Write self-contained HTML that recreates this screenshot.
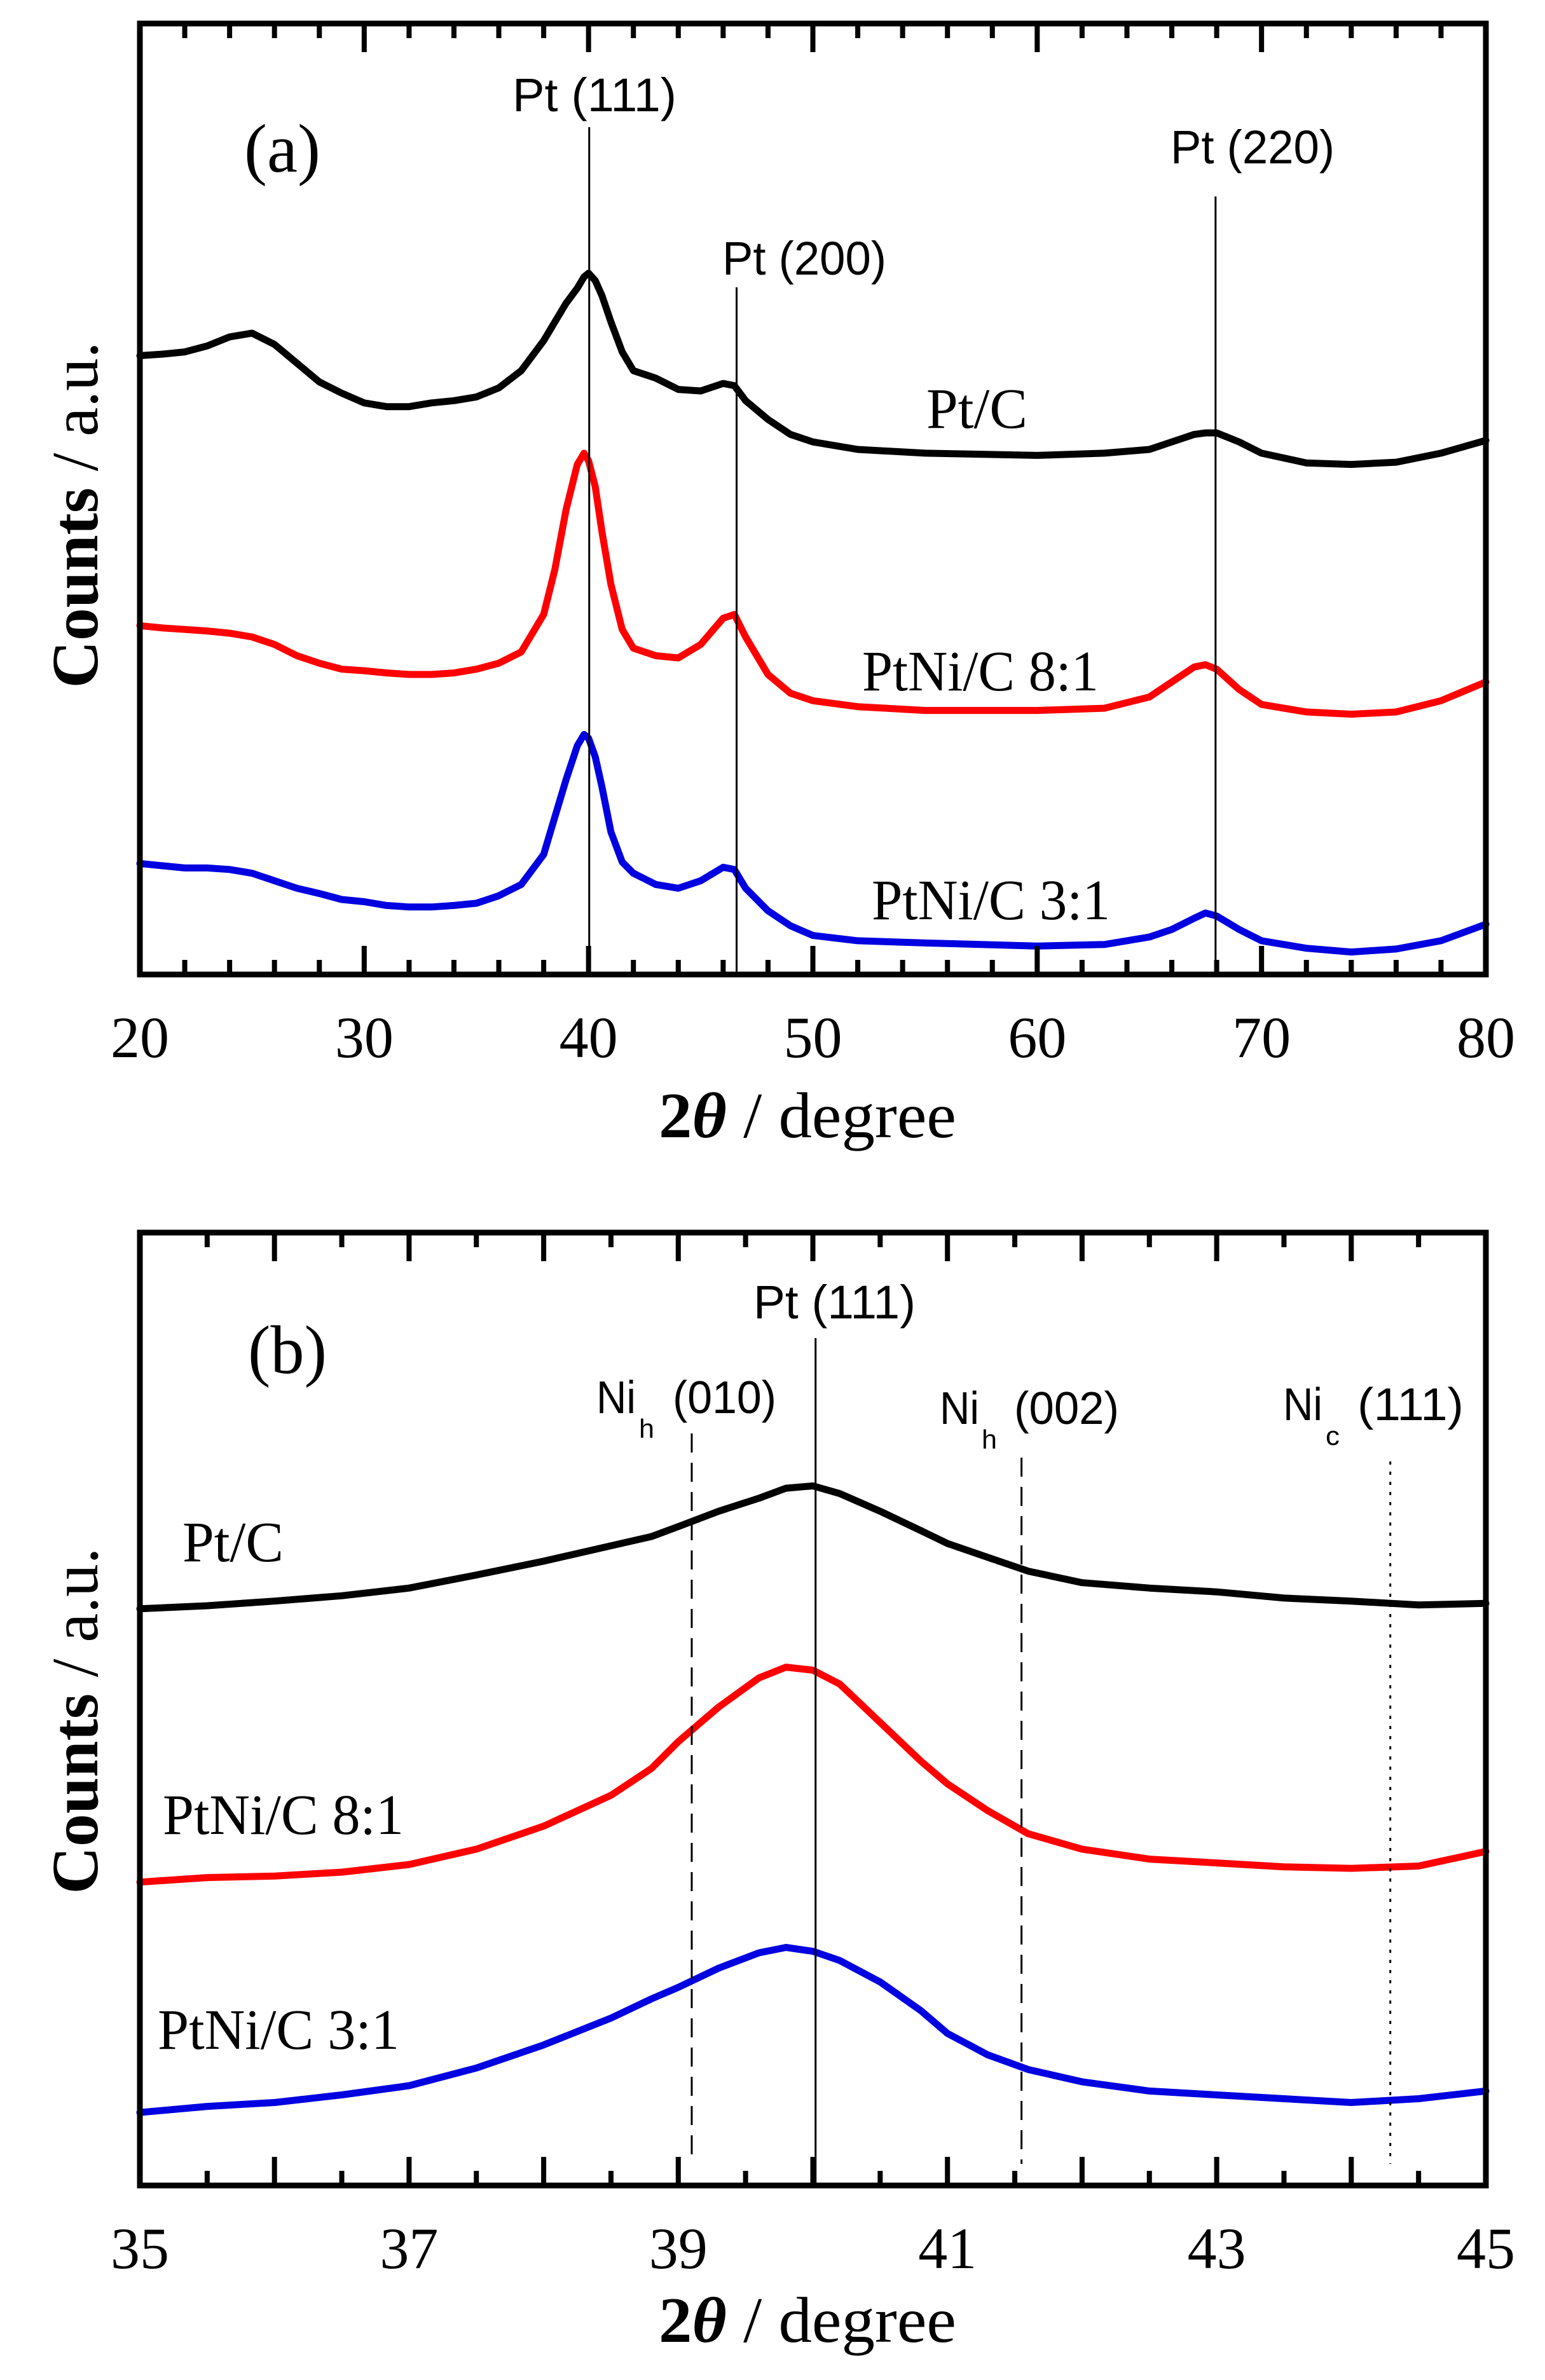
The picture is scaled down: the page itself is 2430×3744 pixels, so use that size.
<!DOCTYPE html>
<html><head><meta charset="utf-8"><style>
html,body{margin:0;padding:0;background:#fff;}
svg{display:block;}
.ser{font-family:"Liberation Serif",serif;}
.san{font-family:"Liberation Sans",sans-serif;}
</style></head><body>
<svg id="fig" xmlns="http://www.w3.org/2000/svg" width="2430" height="3744" viewBox="0 0 2430 3744">
<rect width="2430" height="3744" fill="#fff"/>
<g id="pa"></g>
<g id="pb"></g>
</svg>
<script>
// ---------- Panel (a) data ----------
const aX = [20,21,22,23,24,25,26,27,28,29,30,31,32,33,34,35,36,37,38,38.5,39,39.5,39.8,40,40.3,40.6,41,41.5,42,43,44,45,46,46.5,47,48,49,50,52,55,60,63,65,66,67,67.5,68,69,70,72,74,76,78,80];
const aPtC = [825,827,830,838,850,855,840,815,790,775,762,757,757,762,765,770,782,805,845,870,895,915,930,935,925,905,870,830,805,795,780,778,788,785,765,740,720,710,700,695,692,695,700,710,720,722,722,710,695,682,680,683,695,712];
const aPtNi81 = [465,462,460,458,455,450,440,425,415,407,405,402,400,400,402,407,415,430,480,540,620,680,695,685,650,590,520,460,435,425,422,440,475,480,450,400,375,365,357,352,352,355,370,390,410,413,407,380,360,350,347,350,365,390];
const aPtNi31 = [148,145,142,142,140,135,125,115,108,100,97,92,90,90,92,95,105,120,160,210,260,305,320,315,290,250,190,150,135,120,115,125,143,140,115,85,65,52,45,42,38,40,50,60,75,82,78,60,45,35,30,34,45,67];
const aTicks = ["20","30","40","50","60","70","80"];
const aRefs = [40.03, 46.6, 67.95];
// ---------- Panel (b) data ----------
const bX = [35,35.5,36,36.5,37,37.5,38,38.5,38.8,39,39.3,39.6,39.8,40,40.2,40.5,40.8,41,41.3,41.6,42,42.5,43,43.5,44,44.5,45];
const bPtC = [751,755,761,768,778,795,813,833,845,858,878,895,908,911,901,878,853,836,818,800,785,778,773,765,761,756,758];
const bPtNi81 = [395,401,403,408,418,438,468,508,543,578,623,661,675,671,653,603,553,523,488,458,438,425,420,415,413,416,435];
const bPtNi31 = [95,103,108,118,130,153,183,218,243,258,283,303,310,305,293,265,228,198,170,151,135,123,118,113,108,113,123];
const bTicks = ["35","37","39","41","43","45"];
const bRefs = [39.1, 40.02, 41.55, 44.29];

const NS = "http://www.w3.org/2000/svg";
function mk(parent, tag, attrs, text){
  const e = document.createElementNS(NS, tag);
  for (const k in attrs) e.setAttribute(k, attrs[k]);
  if (text !== undefined) e.textContent = text;
  parent.appendChild(e);
  return e;
}
const L = 220, R = 2337;

function panel(g, cfg){
  const xs = v => L + (v - cfg.x0) / (cfg.x1 - cfg.x0) * (R - L);
  const ys = v => cfg.bottom - v * cfg.ky;
  // series
  cfg.series.forEach(s => {
    const pts = cfg.xd.map((x,i) => xs(x).toFixed(1) + "," + ys(s.v[i]).toFixed(1)).join(" ");
    const p = mk(g, "polyline", {points: pts, fill: "none", stroke: s.c, "stroke-width": 11, "stroke-linejoin": "round", "stroke-linecap": "round"});
    
    
  });
  // reference lines
  cfg.refs.forEach((r, i) => {
    const st = cfg.refStyle[i];
    const ln = mk(g, "line", {x1: xs(r), x2: xs(r), y1: st.top, y2: st.bot, stroke: "#000", "stroke-width": 3, "stroke-dasharray": st.dash});
    
    
  });
  // frame
  const fr = mk(g, "rect", {x: L, y: cfg.top, width: R - L, height: cfg.bottom - cfg.top, fill: "none", stroke: "#000", "stroke-width": 9});
  
  
  // ticks
  for (let v = cfg.x0 + cfg.minor; v < cfg.x1 - 1e-6; v += cfg.minor){
    const isMaj = Math.abs(v / cfg.major - Math.round(v / cfg.major)) < 1e-6;
    const len = isMaj ? 45 : 23;
    const x = xs(v);
    const t1 = mk(g, "line", {x1: x, x2: x, y1: cfg.bottom, y2: cfg.bottom - len, stroke: "#000", "stroke-width": 8});
    
    
    const t2 = mk(g, "line", {x1: x, x2: x, y1: cfg.top, y2: cfg.top + len, stroke: "#000", "stroke-width": 8});
    
    
  }
  cfg.ticks.forEach(t => {
    const tl = mk(g, "text", {x: xs(parseFloat(t)), y: cfg.bottom + 130, "text-anchor": "middle", "font-size": 92, class: "ser"}, t);
    
    
  });
  // x title
  const xt = mk(g, "text", {x: 1036, y: cfg.bottom + cfg.titleOff, "font-size": 102, class: "ser", textLength: 468, lengthAdjust: "spacingAndGlyphs"});
  
  
  mk(xt, "tspan", {"font-weight": "bold"}, "2");
  mk(xt, "tspan", {"font-weight": "bold", "font-style": "italic"}, "θ");
  mk(xt, "tspan", {}, " / degree");
  // y title
  const cy = cfg.yTitleC;
  const yt = mk(g, "text", {x: 0, y: 0, transform: `translate(153,${cy}) rotate(-90)`, "text-anchor": "middle", "font-size": 104, class: "ser", textLength: 545, lengthAdjust: "spacingAndGlyphs"});
  
  
  mk(yt, "tspan", {"font-weight": "bold"}, "Counts");
  mk(yt, "tspan", {}, " / a.u.");
  // labels
  cfg.labels.forEach(l => {
    const t = mk(g, "text", {x: l.x, y: l.y, "font-size": l.fs, class: l.cls, textLength: l.w, lengthAdjust: "spacingAndGlyphs"}, l.t);
    
    
  });
}

panel(document.getElementById("pa"), {
  x0: 20, x1: 80, minor: 2, major: 10, top: 37, bottom: 1533, ky: 1.18, titleOff: 256, yTitleC: 810,
  xd: aX, ticks: aTicks,
  series: [{v: aPtC, c: "#000", name: "series-pt-c"}, {v: aPtNi81, c: "#ff0000", name: "series-ptni-8-1"}, {v: aPtNi31, c: "#0000e0", name: "series-ptni-3-1"}],
  refs: aRefs,
  refStyle: [{top: 200, bot: 1533, dash: "none", name: "ref-line-pt111"}, {top: 452, bot: 1533, dash: "none", name: "ref-line-pt200"}, {top: 309, bot: 1533, dash: "none", name: "ref-line-pt220"}],
  labels: [
    {t: "Pt (111)", x: 806, y: 175, fs: 74, cls: "san", w: 258, name: "label-pt111"},
    {t: "Pt (200)", x: 1136, y: 432, fs: 74, cls: "san", w: 258, name: "label-pt200"},
    {t: "Pt (220)", x: 1841, y: 257, fs: 74, cls: "san", w: 258, name: "label-pt220"},
    {t: "(a)", x: 384, y: 270, fs: 108, cls: "ser", w: 120, name: "panel-label-a"},
    {t: "Pt/C", x: 1457, y: 673, fs: 90, cls: "ser", w: 159, name: "legend-pt-c"},
    {t: "PtNi/C 8:1", x: 1356, y: 1086, fs: 90, cls: "ser", w: 372, name: "legend-ptni-8-1"},
    {t: "PtNi/C 3:1", x: 1371, y: 1446, fs: 90, cls: "ser", w: 375, name: "legend-ptni-3-1"}
  ]
});

panel(document.getElementById("pb"), {
  x0: 35, x1: 45, minor: 0.5, major: 1, top: 1939, bottom: 3438, ky: 1.208, titleOff: 246, yTitleC: 2707,
  xd: bX, ticks: bTicks,
  series: [{v: bPtC, c: "#000", name: "series-pt-c"}, {v: bPtNi81, c: "#ff0000", name: "series-ptni-8-1"}, {v: bPtNi31, c: "#0000e0", name: "series-ptni-3-1"}],
  refs: bRefs,
  refStyle: [{top: 2255, bot: 3404, dash: "30 16", name: "ref-line-nih010"}, {top: 2105, bot: 3438, dash: "none", name: "ref-line-pt111"}, {top: 2293, bot: 3404, dash: "30 16", name: "ref-line-nih002"}, {top: 2299, bot: 3404, dash: "5 11", name: "ref-line-nic111"}],
  labels: [
    {t: "Pt (111)", x: 1185, y: 2074, fs: 74, cls: "san", w: 255, name: "label-pt111"},
    {t: "Ni", x: 938, y: 2223, fs: 72, cls: "san", w: 62, name: "label-nih010-ni"},
    {t: "h", x: 1005, y: 2262, fs: 42, cls: "san", w: 24, name: "label-nih010-sub"},
    {t: "(010)", x: 1058, y: 2223, fs: 72, cls: "san", w: 163, name: "label-nih010-index"},
    {t: "Ni", x: 1478, y: 2240, fs: 72, cls: "san", w: 62, name: "label-nih002-ni"},
    {t: "h", x: 1544, y: 2279, fs: 42, cls: "san", w: 24, name: "label-nih002-sub"},
    {t: "(002)", x: 1595, y: 2240, fs: 72, cls: "san", w: 165, name: "label-nih002-index"},
    {t: "Ni", x: 2018, y: 2234, fs: 72, cls: "san", w: 62, name: "label-nic111-ni"},
    {t: "c", x: 2085, y: 2273, fs: 42, cls: "san", w: 22, name: "label-nic111-sub"},
    {t: "(111)", x: 2135, y: 2234, fs: 72, cls: "san", w: 167, name: "label-nic111-index"},
    {t: "(b)", x: 390, y: 2160, fs: 108, cls: "ser", w: 124, name: "panel-label-b"},
    {t: "Pt/C", x: 287, y: 2456, fs: 90, cls: "ser", w: 159, name: "legend-pt-c"},
    {t: "PtNi/C 8:1", x: 256, y: 2885, fs: 90, cls: "ser", w: 379, name: "legend-ptni-8-1"},
    {t: "PtNi/C 3:1", x: 248, y: 3223, fs: 90, cls: "ser", w: 380, name: "legend-ptni-3-1"}
  ]
});
</script>
</body></html>
